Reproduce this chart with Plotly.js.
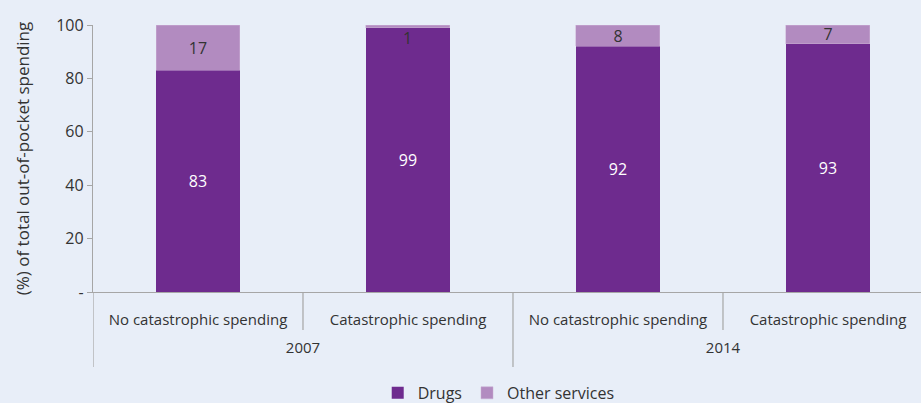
<!DOCTYPE html>
<html>
<head>
<meta charset="utf-8">
<script src="https://cdn.plot.ly/plotly-3.0.1.min.js"></script>
<style>html,body{margin:0;padding:0;background:#E8EEF8;}#chart{width:921px;height:403px;}</style>
</head>
<body>
<div id="chart"></div>
<script>
const years = ["2007", "2007", "2014", "2014"];
const groups = ["No catastrophic spending", "Catastrophic spending", "No catastrophic spending", "Catastrophic spending"];
const drugs = [83, 99, 92, 93];
const otherServices = [17, 1, 8, 7];
const yTickVals = [0, 20, 40, 60, 80, 100];
const yTickText = ["-", "20", "40", "60", "80", "100"];

const FONT = "Open Sans, Noto Sans, sans-serif";
// a blank second line under each group label leaves room before the year row
const xcats = [years, groups.map(g => g + "<br> ")];

// tiny segments get their label placed just under the stack top
const smallLimit = 5;
const otherPos = otherServices.map(v => v < smallLimit ? "none" : "inside");
const annotations = otherServices.map((v, i) => v < smallLimit ? {
  x: i, xref: "x", y: drugs[i] + v, yref: "y", yanchor: "top", yshift: 0,
  text: String(v), showarrow: false, font: {family: FONT, size: 16, color: "#333333"}
} : null).filter(a => a);

// separators: short ones between sub-categories, long ones between years
const sepStyle = {color: "#A6A6A6", width: 1.2};
const shortSeps = [0.5, 2.5].map(b => ({
  type: "line", xref: "x", yref: "paper", x0: b, x1: b, y0: 0, y1: -38 / 267, line: sepStyle
}));
const longSeps = [-0.5, 1.5].map(b => ({
  type: "line", xref: "x", yref: "paper", x0: b, x1: b, y0: 0, y1: -75 / 267, line: sepStyle
}));

const data = [
  {type: "bar", name: "Drugs", x: xcats, y: drugs, text: drugs.map(String),
   textposition: "inside", insidetextanchor: "middle", constraintext: "none", textangle: 0,
   textfont: {family: FONT, size: 16, color: "#FFFFFF"},
   marker: {color: "#6E2B8E"}, hoverinfo: "none"},
  {type: "bar", name: "Other services", x: xcats, y: otherServices, text: otherServices.map(String),
   textposition: otherPos, insidetextanchor: "middle", constraintext: "none", textangle: 0,
   textfont: {family: FONT, size: 16, color: "#333333"},
   marker: {color: "#B28BC0", line: {color: "#C9AED3", width: 0.5}}, hoverinfo: "none"}
];

const layout = {
  width: 921, height: 403,
  paper_bgcolor: "#E8EEF8", plot_bgcolor: "#E8EEF8",
  margin: {l: 93, r: 0, t: 25, b: 111},
  barmode: "stack", bargap: 0.6,
  showlegend: true,
  font: {family: FONT, size: 15, color: "#333333"},
  xaxis: {
    type: "multicategory", automargin: false,
    range: [-0.5, 3.443],
    showline: true, linecolor: "#A6A6A6", linewidth: 1.2,
    ticks: "", ticklabelstandoff: 14,
    showdividers: false,
    showgrid: false, zeroline: false,
    tickfont: {family: FONT, size: 15, color: "#333333"}
  },
  yaxis: {
    range: [0, 100], automargin: false,
    tickvals: yTickVals, ticktext: yTickText,
    showline: true, linecolor: "#A6A6A6", linewidth: 1.2,
    ticks: "outside", ticklen: 5, tickcolor: "#A6A6A6", ticklabelstandoff: 0,
    showgrid: false, zeroline: false,
    tickfont: {family: FONT, size: 16, color: "#333333"},
    title: {text: "(%) of total out-of-pocket spending", font: {family: FONT, size: 17, color: "#333333"}, standoff: 22}
  },
  legend: {
    orientation: "h", x: 0.49, xanchor: "center", yref: "container", y: 0.025, yanchor: "middle",
    font: {family: FONT, size: 16, color: "#333333"},
    bgcolor: "rgba(0,0,0,0)", traceorder: "normal", itemwidth: 30
  },
  shapes: shortSeps.concat(longSeps),
  annotations: annotations
};

Plotly.newPlot("chart", data, layout, {displayModeBar: false, staticPlot: true});
</script>
</body>
</html>
